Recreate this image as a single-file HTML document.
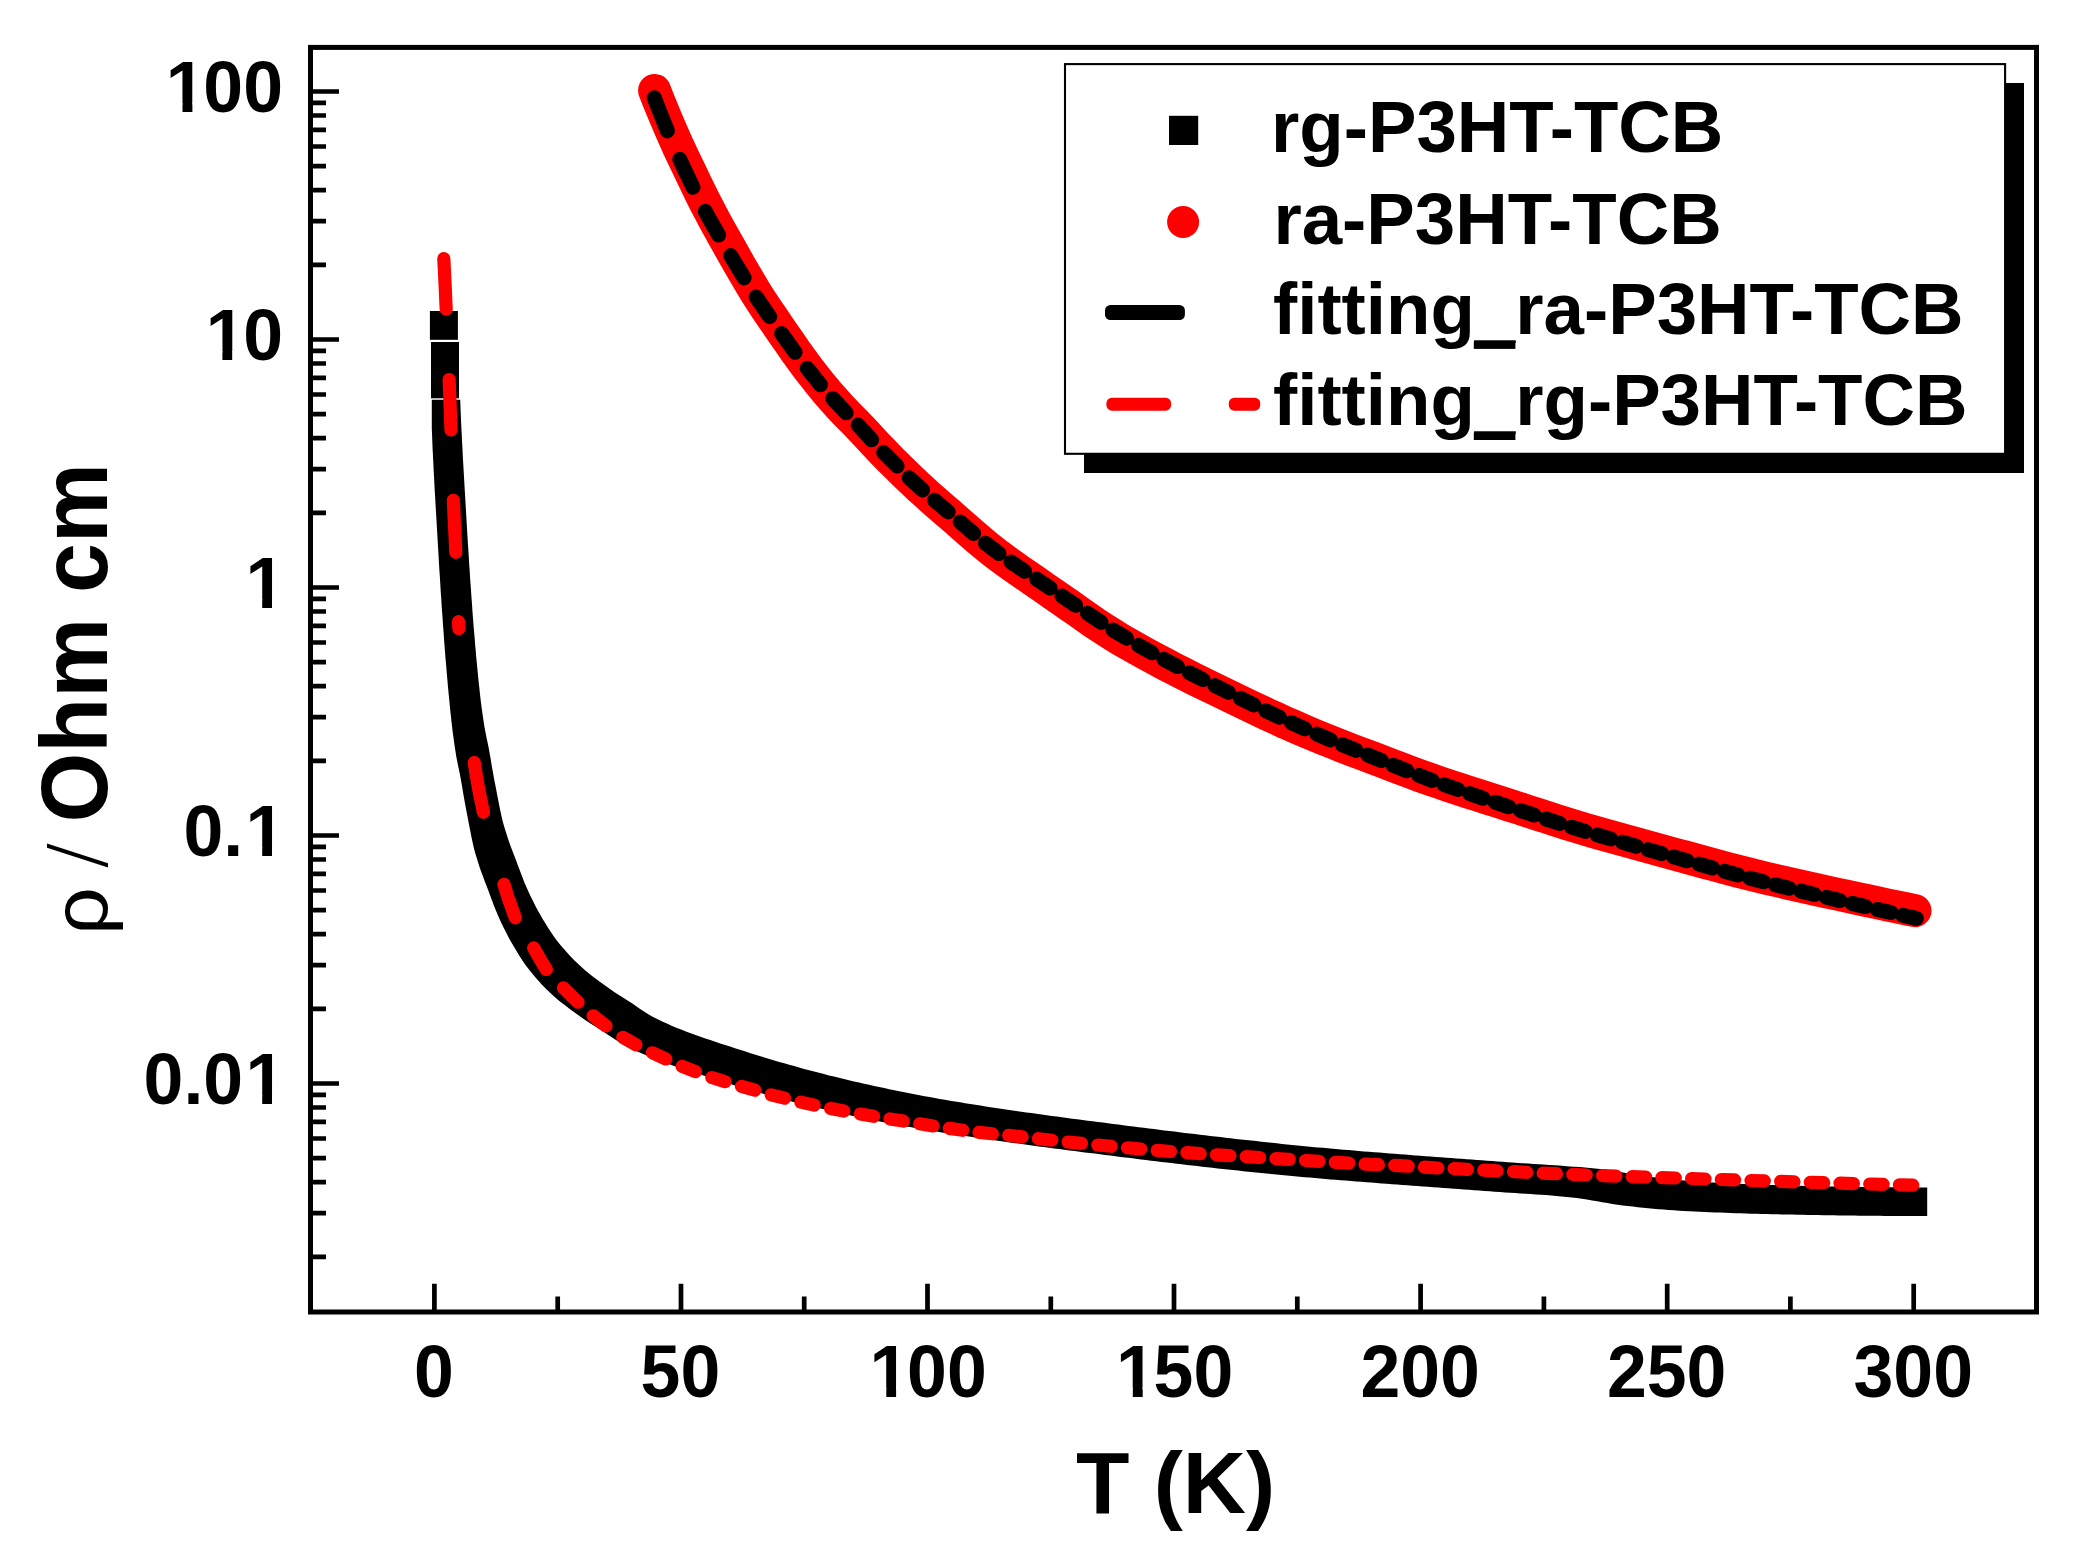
<!DOCTYPE html>
<html><head><meta charset="utf-8"><title>Resistivity vs T</title>
<style>html,body{margin:0;padding:0;background:#fff}svg{display:block}</style></head>
<body>
<svg width="2084" height="1564" viewBox="0 0 2084 1564">
<rect x="0" y="0" width="2084" height="1564" fill="#fff"/>
<path d="M654.6,90.4 L658.3,99.9 L662.1,109.3 L666.0,118.7 L670.0,128.0 L674.1,137.3 L678.2,146.6 L682.5,155.7 L686.9,164.9 L691.4,174.2 L695.8,183.5 L700.3,192.8 L704.9,202.0 L709.7,211.2 L714.6,220.4 L719.6,229.4 L724.6,238.5 L729.7,247.5 L734.8,256.6 L739.9,265.6 L745.1,274.6 L750.4,283.5 L755.7,292.4 L761.3,301.1 L766.9,309.6 L772.7,318.0 L778.4,326.4 L784.2,334.8 L790.0,343.2 L795.8,351.6 L801.8,359.9 L807.8,368.1 L814.1,376.1 L820.4,384.1 L826.9,392.0 L833.6,399.7 L840.4,407.3 L847.6,414.7 L854.8,422.0 L862.0,429.5 L869.0,437.0 L876.0,444.6 L883.1,452.0 L890.3,459.4 L897.6,466.7 L904.8,473.8 L912.0,480.7 L919.4,487.6 L926.9,494.4 L934.4,501.1 L942.0,507.7 L949.6,514.3 L957.2,520.9 L964.8,527.6 L972.4,534.2 L980.0,540.8 L987.8,547.2 L995.7,553.4 L1003.8,559.5 L1011.9,565.4 L1020.2,571.2 L1028.5,576.9 L1036.8,582.6 L1045.0,588.4 L1053.3,594.1 L1061.6,599.8 L1069.9,605.6 L1078.1,611.4 L1086.4,617.2 L1094.6,623.0 L1103.0,628.5 L1111.7,634.0 L1120.4,639.4 L1129.3,644.6 L1138.3,649.6 L1147.3,654.6 L1156.4,659.5 L1165.5,664.4 L1174.6,669.1 L1183.8,673.8 L1193.0,678.4 L1202.2,683.0 L1211.5,687.5 L1220.8,692.0 L1230.0,696.5 L1239.3,701.0 L1248.6,705.5 L1257.9,709.9 L1267.2,714.3 L1276.6,718.6 L1285.9,722.9 L1295.4,727.0 L1304.8,731.1 L1314.3,735.1 L1323.8,739.0 L1333.3,742.8 L1342.9,746.6 L1352.5,750.3 L1362.1,753.9 L1371.7,757.5 L1381.3,761.2 L1390.9,764.9 L1400.6,768.5 L1410.2,772.1 L1419.8,775.7 L1429.5,779.1 L1439.3,782.5 L1449.0,785.8 L1458.8,789.0 L1468.6,792.2 L1478.4,795.3 L1488.2,798.5 L1498.0,801.5 L1507.8,804.7 L1517.7,807.9 L1527.5,811.1 L1537.3,814.2 L1547.2,817.4 L1557.0,820.6 L1566.9,823.7 L1576.8,826.7 L1586.7,829.7 L1596.6,832.6 L1606.5,835.4 L1616.5,838.2 L1626.4,840.9 L1636.4,843.7 L1646.3,846.4 L1656.3,849.2 L1666.2,851.9 L1676.2,854.6 L1686.2,857.3 L1696.1,860.0 L1706.1,862.7 L1716.1,865.4 L1726.0,868.1 L1736.0,870.7 L1746.0,873.3 L1756.0,875.8 L1766.1,878.2 L1776.1,880.5 L1786.1,882.8 L1796.2,885.1 L1806.2,887.3 L1816.3,889.6 L1826.4,891.8 L1836.4,894.0 L1846.5,896.2 L1856.6,898.4 L1866.7,900.5 L1876.8,902.7 L1886.8,904.8 L1896.9,906.9 L1907.0,909.0 L1915.0,910.7" fill="none" stroke="#ff0000" stroke-width="33" stroke-linecap="round" stroke-linejoin="round"/>
<rect x="429.9" y="311" width="28" height="28.8" fill="#000"/>
<rect x="431" y="342" width="28" height="56.3" fill="#000"/>
<path d="M431.8,399.8 L460.2,399.8 L460.4,404.9 L460.6,410.0 L460.8,415.2 L461.0,420.3 L461.3,425.5 L461.5,430.6 L461.8,435.8 L462.0,440.9 L462.3,446.0 L462.6,451.2 L462.8,456.3 L463.1,461.5 L463.4,466.6 L463.7,471.7 L464.0,476.9 L464.3,482.0 L464.6,487.2 L464.9,492.3 L465.2,497.5 L465.5,502.6 L465.8,507.7 L466.1,512.9 L466.4,518.0 L466.7,523.2 L467.0,528.3 L467.3,533.4 L467.6,538.6 L467.9,543.7 L468.3,548.9 L468.6,554.0 L468.9,559.1 L469.2,564.3 L469.6,569.4 L469.9,574.6 L470.2,579.7 L470.6,584.8 L471.0,590.0 L471.3,595.1 L471.7,600.3 L472.1,605.4 L472.4,610.5 L472.8,615.7 L473.2,620.8 L473.6,625.9 L474.0,631.1 L474.5,636.2 L474.9,641.3 L475.3,646.4 L475.8,651.6 L476.2,656.7 L476.7,661.8 L477.2,667.0 L477.7,672.1 L478.2,677.2 L478.7,682.4 L479.3,687.5 L479.8,692.6 L480.4,697.7 L481.0,702.8 L481.7,707.9 L482.4,713.0 L483.1,718.1 L483.9,723.2 L484.7,728.3 L485.7,733.3 L486.7,738.4 L487.8,743.4 L488.8,748.5 L489.7,753.5 L490.6,758.6 L491.4,763.7 L492.3,768.8 L493.2,773.8 L494.1,778.9 L495.1,784.0 L496.1,789.0 L497.0,794.1 L498.0,799.1 L499.0,804.2 L500.0,809.3 L501.1,814.3 L502.2,819.3 L503.5,824.3 L505.0,829.2 L506.5,834.1 L508.1,839.0 L509.8,843.9 L511.6,848.7 L513.4,853.5 L515.3,858.3 L517.1,863.2 L518.9,868.0 L520.7,872.8 L522.5,877.6 L524.4,882.4 L526.4,887.1 L528.5,891.8 L530.7,896.5 L533.0,901.1 L535.3,905.7 L537.7,910.3 L540.3,914.8 L542.8,919.2 L545.5,923.6 L548.2,928.0 L551.0,932.3 L553.9,936.6 L557.0,940.7 L560.2,944.7 L563.5,948.6 L567.0,952.5 L570.4,956.3 L574.0,960.0 L577.7,963.6 L581.5,967.1 L585.3,970.5 L589.3,973.8 L593.4,976.9 L597.5,980.1 L601.6,983.1 L605.8,986.1 L610.0,989.1 L614.2,992.0 L618.5,994.8 L622.9,997.6 L627.2,1000.3 L631.6,1003.1 L635.9,1006.0 L640.1,1008.9 L644.4,1011.7 L648.7,1014.5 L653.1,1017.0 L657.7,1019.3 L662.2,1021.5 L666.9,1023.6 L671.6,1025.7 L676.3,1027.7 L681.1,1029.6 L685.9,1031.5 L690.7,1033.3 L695.6,1035.1 L700.5,1036.8 L705.4,1038.5 L710.3,1040.1 L715.3,1041.8 L720.2,1043.4 L725.2,1045.0 L730.1,1046.6 L735.0,1048.2 L739.9,1049.7 L744.8,1051.3 L749.8,1052.9 L754.7,1054.4 L759.6,1055.9 L764.5,1057.5 L769.4,1058.9 L774.3,1060.4 L779.3,1061.9 L784.2,1063.3 L789.2,1064.7 L794.2,1066.1 L799.1,1067.5 L804.1,1068.9 L809.1,1070.2 L814.1,1071.5 L819.0,1072.8 L824.0,1074.1 L829.0,1075.4 L834.0,1076.6 L839.0,1077.8 L844.0,1079.0 L849.0,1080.2 L854.0,1081.4 L859.1,1082.6 L864.1,1083.7 L869.1,1084.8 L874.1,1085.9 L879.2,1087.0 L884.2,1088.1 L889.3,1089.2 L894.3,1090.3 L899.3,1091.3 L904.4,1092.3 L909.5,1093.3 L914.5,1094.3 L919.6,1095.3 L924.6,1096.2 L929.7,1097.1 L934.8,1098.0 L939.8,1098.9 L944.9,1099.8 L950.0,1100.7 L955.0,1101.5 L960.1,1102.3 L965.2,1103.2 L970.3,1104.0 L975.4,1104.8 L980.4,1105.6 L985.5,1106.4 L990.6,1107.2 L995.7,1107.9 L1000.8,1108.7 L1005.9,1109.5 L1011.0,1110.2 L1016.1,1110.9 L1021.2,1111.7 L1026.3,1112.4 L1031.4,1113.1 L1036.5,1113.8 L1041.6,1114.5 L1046.7,1115.2 L1051.8,1115.9 L1056.9,1116.6 L1062.0,1117.3 L1067.1,1118.0 L1072.2,1118.7 L1077.3,1119.3 L1082.5,1120.0 L1087.6,1120.7 L1092.7,1121.3 L1097.8,1122.0 L1102.9,1122.6 L1108.0,1123.3 L1113.1,1124.0 L1118.2,1124.6 L1123.3,1125.2 L1128.4,1125.9 L1133.5,1126.5 L1138.7,1127.2 L1143.8,1127.8 L1148.9,1128.5 L1154.0,1129.1 L1159.1,1129.7 L1164.2,1130.4 L1169.3,1131.0 L1174.4,1131.6 L1179.5,1132.3 L1184.6,1132.9 L1189.8,1133.5 L1194.9,1134.1 L1200.0,1134.7 L1205.1,1135.3 L1210.2,1135.9 L1215.3,1136.5 L1220.5,1137.1 L1225.6,1137.7 L1230.7,1138.3 L1235.8,1138.9 L1240.9,1139.4 L1246.0,1140.0 L1251.2,1140.6 L1256.3,1141.1 L1261.4,1141.7 L1266.5,1142.2 L1271.6,1142.8 L1276.8,1143.3 L1281.9,1143.9 L1287.0,1144.4 L1292.1,1144.9 L1297.3,1145.4 L1302.4,1145.9 L1307.5,1146.4 L1312.6,1146.9 L1317.7,1147.4 L1322.9,1147.8 L1328.0,1148.3 L1333.1,1148.8 L1338.3,1149.2 L1343.4,1149.7 L1348.5,1150.1 L1353.6,1150.5 L1358.8,1151.0 L1363.9,1151.4 L1369.0,1151.8 L1374.2,1152.2 L1379.3,1152.6 L1384.4,1153.0 L1389.6,1153.4 L1394.7,1153.8 L1399.8,1154.2 L1405.0,1154.6 L1410.1,1155.0 L1415.2,1155.4 L1420.4,1155.8 L1425.5,1156.2 L1430.7,1156.5 L1435.8,1156.9 L1440.9,1157.3 L1446.1,1157.7 L1451.2,1158.0 L1456.3,1158.4 L1461.5,1158.8 L1466.6,1159.2 L1471.7,1159.5 L1476.9,1159.9 L1482.0,1160.3 L1487.2,1160.7 L1492.3,1161.1 L1497.4,1161.4 L1502.6,1161.8 L1507.7,1162.2 L1512.8,1162.6 L1518.0,1162.9 L1523.1,1163.3 L1528.3,1163.6 L1533.4,1164.0 L1538.5,1164.3 L1543.7,1164.6 L1548.8,1165.0 L1554.0,1165.3 L1559.1,1165.6 L1564.3,1166.0 L1569.4,1166.4 L1574.5,1166.7 L1579.7,1167.1 L1584.8,1167.6 L1589.9,1168.0 L1595.0,1168.5 L1600.1,1169.0 L1605.2,1169.6 L1610.3,1170.3 L1615.4,1171.1 L1620.5,1172.0 L1625.6,1172.9 L1630.7,1173.8 L1635.7,1174.7 L1640.8,1175.5 L1645.9,1176.3 L1651.0,1177.0 L1656.1,1177.6 L1661.2,1178.2 L1666.3,1178.8 L1671.5,1179.3 L1676.6,1179.8 L1681.7,1180.3 L1686.9,1180.8 L1692.0,1181.2 L1697.1,1181.6 L1702.3,1181.9 L1707.4,1182.3 L1712.5,1182.5 L1717.7,1182.8 L1722.8,1183.1 L1728.0,1183.3 L1733.1,1183.6 L1738.2,1183.8 L1743.4,1184.0 L1748.5,1184.2 L1753.7,1184.4 L1758.8,1184.6 L1764.0,1184.8 L1769.1,1184.9 L1774.3,1185.1 L1779.4,1185.3 L1784.6,1185.4 L1789.7,1185.6 L1794.9,1185.7 L1800.0,1185.8 L1805.2,1185.9 L1810.3,1186.0 L1815.5,1186.1 L1820.6,1186.2 L1825.8,1186.3 L1830.9,1186.4 L1836.1,1186.5 L1841.2,1186.6 L1846.4,1186.7 L1851.5,1186.8 L1856.7,1186.8 L1861.8,1186.9 L1866.9,1187.0 L1872.1,1187.1 L1877.2,1187.1 L1882.4,1187.2 L1887.5,1187.3 L1892.7,1187.3 L1897.8,1187.4 L1903.0,1187.4 L1908.1,1187.4 L1913.3,1187.5 L1918.4,1187.5 L1923.6,1187.5 L1927.2,1187.5 L1927.2,1215.9 L1898.8,1215.9 L1895.2,1215.9 L1890.0,1215.9 L1884.9,1215.9 L1879.7,1215.8 L1874.6,1215.8 L1869.4,1215.8 L1864.3,1215.7 L1859.1,1215.7 L1854.0,1215.6 L1848.8,1215.5 L1843.7,1215.5 L1838.5,1215.4 L1833.4,1215.3 L1828.3,1215.2 L1823.1,1215.2 L1818.0,1215.1 L1812.8,1215.0 L1807.7,1214.9 L1802.5,1214.8 L1797.4,1214.7 L1792.2,1214.6 L1787.1,1214.5 L1781.9,1214.4 L1776.8,1214.3 L1771.6,1214.2 L1766.5,1214.1 L1761.3,1214.0 L1756.2,1213.8 L1751.0,1213.7 L1745.9,1213.5 L1740.7,1213.3 L1735.6,1213.2 L1730.4,1213.0 L1725.3,1212.8 L1720.1,1212.6 L1715.0,1212.4 L1709.8,1212.2 L1704.7,1212.0 L1699.6,1211.7 L1694.4,1211.5 L1689.3,1211.2 L1684.1,1210.9 L1679.0,1210.7 L1673.9,1210.3 L1668.7,1210.0 L1663.6,1209.6 L1658.5,1209.2 L1653.3,1208.7 L1648.2,1208.2 L1643.1,1207.7 L1637.9,1207.2 L1632.8,1206.6 L1627.7,1206.0 L1622.6,1205.4 L1617.5,1204.7 L1612.4,1203.9 L1607.3,1203.1 L1602.3,1202.2 L1597.2,1201.3 L1592.1,1200.4 L1587.0,1199.5 L1581.9,1198.7 L1576.8,1198.0 L1571.7,1197.4 L1566.6,1196.9 L1561.5,1196.4 L1556.4,1196.0 L1551.3,1195.5 L1546.1,1195.1 L1541.0,1194.8 L1535.9,1194.4 L1530.7,1194.0 L1525.6,1193.7 L1520.4,1193.4 L1515.3,1193.0 L1510.1,1192.7 L1505.0,1192.4 L1499.9,1192.0 L1494.7,1191.7 L1489.6,1191.3 L1484.4,1191.0 L1479.3,1190.6 L1474.2,1190.2 L1469.0,1189.8 L1463.9,1189.5 L1458.8,1189.1 L1453.6,1188.7 L1448.5,1188.3 L1443.3,1187.9 L1438.2,1187.6 L1433.1,1187.2 L1427.9,1186.8 L1422.8,1186.4 L1417.7,1186.1 L1412.5,1185.7 L1407.4,1185.3 L1402.3,1184.9 L1397.1,1184.6 L1392.0,1184.2 L1386.8,1183.8 L1381.7,1183.4 L1376.6,1183.0 L1371.4,1182.6 L1366.3,1182.2 L1361.2,1181.8 L1356.0,1181.4 L1350.9,1181.0 L1345.8,1180.6 L1340.6,1180.2 L1335.5,1179.8 L1330.4,1179.4 L1325.2,1178.9 L1320.1,1178.5 L1315.0,1178.1 L1309.9,1177.6 L1304.7,1177.2 L1299.6,1176.7 L1294.5,1176.2 L1289.3,1175.8 L1284.2,1175.3 L1279.1,1174.8 L1274.0,1174.3 L1268.9,1173.8 L1263.7,1173.3 L1258.6,1172.8 L1253.5,1172.3 L1248.4,1171.7 L1243.2,1171.2 L1238.1,1170.6 L1233.0,1170.1 L1227.9,1169.5 L1222.8,1169.0 L1217.6,1168.4 L1212.5,1167.8 L1207.4,1167.3 L1202.3,1166.7 L1197.2,1166.1 L1192.1,1165.5 L1186.9,1164.9 L1181.8,1164.3 L1176.7,1163.7 L1171.6,1163.1 L1166.5,1162.5 L1161.4,1161.9 L1156.2,1161.3 L1151.1,1160.7 L1146.0,1160.0 L1140.9,1159.4 L1135.8,1158.8 L1130.7,1158.1 L1125.6,1157.5 L1120.5,1156.9 L1115.4,1156.2 L1110.3,1155.6 L1105.1,1154.9 L1100.0,1154.3 L1094.9,1153.6 L1089.8,1153.0 L1084.7,1152.4 L1079.6,1151.7 L1074.5,1151.0 L1069.4,1150.4 L1064.3,1149.7 L1059.2,1149.1 L1054.1,1148.4 L1048.9,1147.7 L1043.8,1147.1 L1038.7,1146.4 L1033.6,1145.7 L1028.5,1145.0 L1023.4,1144.3 L1018.3,1143.6 L1013.2,1142.9 L1008.1,1142.2 L1003.0,1141.5 L997.9,1140.8 L992.8,1140.1 L987.7,1139.3 L982.6,1138.6 L977.5,1137.9 L972.4,1137.1 L967.3,1136.3 L962.2,1135.6 L957.1,1134.8 L952.0,1134.0 L947.0,1133.2 L941.9,1132.4 L936.8,1131.6 L931.7,1130.7 L926.6,1129.9 L921.6,1129.1 L916.5,1128.2 L911.4,1127.3 L906.4,1126.4 L901.3,1125.5 L896.2,1124.6 L891.2,1123.7 L886.1,1122.7 L881.1,1121.7 L876.0,1120.7 L870.9,1119.7 L865.9,1118.7 L860.9,1117.6 L855.8,1116.5 L850.8,1115.4 L845.7,1114.3 L840.7,1113.2 L835.7,1112.1 L830.7,1111.0 L825.6,1109.8 L820.6,1108.6 L815.6,1107.4 L810.6,1106.2 L805.6,1105.0 L800.6,1103.8 L795.6,1102.5 L790.6,1101.2 L785.7,1099.9 L780.7,1098.6 L775.7,1097.3 L770.7,1095.9 L765.8,1094.5 L760.8,1093.1 L755.8,1091.7 L750.9,1090.3 L745.9,1088.8 L741.0,1087.3 L736.1,1085.9 L731.2,1084.3 L726.3,1082.8 L721.4,1081.3 L716.4,1079.7 L711.5,1078.1 L706.6,1076.6 L701.7,1075.0 L696.8,1073.4 L691.8,1071.8 L686.9,1070.2 L681.9,1068.5 L677.0,1066.9 L672.1,1065.2 L667.2,1063.5 L662.3,1061.7 L657.5,1059.9 L652.7,1058.0 L647.9,1056.1 L643.2,1054.1 L638.5,1052.0 L633.8,1049.9 L629.3,1047.7 L624.7,1045.4 L620.3,1042.9 L616.0,1040.1 L611.7,1037.3 L607.5,1034.4 L603.2,1031.5 L598.8,1028.7 L594.5,1026.0 L590.1,1023.2 L585.8,1020.4 L581.6,1017.5 L577.4,1014.5 L573.2,1011.5 L569.1,1008.5 L565.0,1005.3 L560.9,1002.2 L556.9,998.9 L553.1,995.5 L549.3,992.0 L545.6,988.4 L542.0,984.7 L538.6,980.9 L535.1,977.0 L531.8,973.1 L528.6,969.1 L525.5,965.0 L522.6,960.7 L519.8,956.4 L517.1,952.0 L514.4,947.6 L511.9,943.2 L509.3,938.7 L506.9,934.1 L504.6,929.5 L502.3,924.9 L500.1,920.2 L498.0,915.5 L496.0,910.8 L494.1,906.0 L492.3,901.2 L490.5,896.4 L488.7,891.6 L486.9,886.7 L485.0,881.9 L483.2,877.1 L481.4,872.3 L479.7,867.4 L478.1,862.5 L476.6,857.6 L475.1,852.7 L473.8,847.7 L472.7,842.7 L471.6,837.7 L470.6,832.6 L469.6,827.5 L468.6,822.5 L467.7,817.4 L466.7,812.4 L465.7,807.3 L464.8,802.2 L463.9,797.2 L463.0,792.1 L462.2,787.0 L461.3,781.9 L460.4,776.9 L459.4,771.8 L458.3,766.8 L457.3,761.7 L456.3,756.7 L455.5,751.6 L454.7,746.5 L454.0,741.4 L453.3,736.3 L452.6,731.2 L452.0,726.1 L451.4,721.0 L450.9,715.9 L450.3,710.8 L449.8,705.6 L449.3,700.5 L448.8,695.4 L448.3,690.2 L447.8,685.1 L447.4,680.0 L446.9,674.8 L446.5,669.7 L446.1,664.6 L445.6,659.5 L445.2,654.3 L444.8,649.2 L444.4,644.1 L444.0,638.9 L443.7,633.8 L443.3,628.7 L442.9,623.5 L442.6,618.4 L442.2,613.2 L441.8,608.1 L441.5,603.0 L441.2,597.8 L440.8,592.7 L440.5,587.5 L440.2,582.4 L439.9,577.3 L439.5,572.1 L439.2,567.0 L438.9,561.8 L438.6,556.7 L438.3,551.6 L438.0,546.4 L437.7,541.3 L437.4,536.1 L437.1,531.0 L436.8,525.9 L436.5,520.7 L436.2,515.6 L435.9,510.4 L435.6,505.3 L435.3,500.1 L435.0,495.0 L434.7,489.9 L434.4,484.7 L434.2,479.6 L433.9,474.4 L433.6,469.3 L433.4,464.2 L433.1,459.0 L432.9,453.9 L432.6,448.7 L432.4,443.6 L432.2,438.4 L432.0,433.3 L431.8,428.2Z" fill="#000"/>
<path d="M443.8,258.7 L444.5,272.7 L445.2,286.7 L445.8,300.7 L446.2,309.2 M449.1,379.5 L449.7,394.0 L450.2,408.0 L451.0,430.0 M453.4,500.3 L454.0,514.8 L454.7,528.8 L455.4,542.8 L455.8,552.3 M458.5,621.6 L458.9,628.6 M474.3,762.6 L476.5,776.9 L479.0,790.7 L483.4,812.3 M504.0,884.4 L508.2,898.0 L515.3,917.8 M533.7,947.9 L540.7,960.3 L546.4,969.5 M563.4,987.9 L578.0,1002.2 M593.1,1015.8 L606.0,1026.0 M622.8,1037.3 L635.9,1044.8 M652.4,1052.8 L665.8,1059.0 M682.1,1066.4 L695.4,1071.7 M711.8,1077.5 L725.1,1081.7 M741.5,1086.4 L754.9,1090.2 M771.2,1094.8 L784.5,1098.2 M800.9,1102.1 L814.2,1105.1 M830.6,1108.5 L843.9,1111.1 M860.3,1114.0 L873.6,1116.3 M890.0,1118.9 L903.3,1121.1 M919.7,1123.8 L933.0,1125.9 M949.3,1128.4 L962.7,1130.3 M979.0,1132.4 L992.4,1133.8 M1008.7,1135.4 L1022.1,1136.8 M1038.4,1138.7 L1051.8,1140.2 M1068.1,1142.0 L1081.5,1143.4 M1097.8,1145.0 L1111.2,1146.3 M1127.5,1147.8 L1140.8,1149.0 M1157.2,1150.4 L1170.5,1151.5 M1186.9,1152.7 L1200.2,1153.7 M1216.5,1154.8 L1229.9,1155.6 M1246.2,1156.7 L1259.6,1157.5 M1275.9,1158.6 L1289.3,1159.4 M1305.6,1160.5 L1319.0,1161.4 M1335.3,1162.4 L1348.7,1163.2 M1365.0,1164.1 L1378.4,1164.7 M1394.7,1165.4 L1408.1,1166.2 M1424.4,1167.2 L1437.7,1168.0 M1454.1,1168.7 L1467.4,1169.4 M1483.8,1170.2 L1497.1,1170.8 M1513.5,1171.6 L1526.8,1172.3 M1543.1,1173.1 L1556.5,1173.7 M1572.8,1174.4 L1586.2,1175.0 M1602.5,1175.6 L1615.9,1176.1 M1632.2,1176.7 L1645.6,1177.1 M1661.9,1177.6 L1675.3,1178.0 M1691.6,1178.5 L1705.0,1179.0 M1721.3,1179.5 L1734.6,1179.9 M1751.0,1180.5 L1764.3,1180.9 M1780.7,1181.4 L1794.0,1181.8 M1810.3,1182.3 L1823.7,1182.7 M1840.0,1183.2 L1853.4,1183.6 M1869.7,1184.0 L1883.1,1184.4 M1899.4,1184.8 L1912.8,1185.2" fill="none" stroke="#ff0000" stroke-width="13.2" stroke-linecap="round" stroke-linejoin="round"/>
<path d="M654.3,97.7 L659.5,111.1 L667.4,130.9 M679.8,159.3 L685.7,172.2 L693.0,187.3 M705.3,211.3 L712.0,223.6 L718.6,235.1 M730.7,255.6 L738.1,267.9 L744.1,277.9 M756.2,297.0 L764.2,308.8 L769.7,316.7 M781.7,333.6 L790.0,345.2 L795.1,352.3 M807.2,368.3 L820.5,384.7 M832.7,398.5 L846.2,412.8 M858.1,425.1 L871.7,439.8 M883.6,452.4 L897.1,466.1 M909.1,477.7 L922.6,490.0 M934.6,500.3 L948.2,511.9 M960.1,521.9 L973.6,533.5 M985.5,543.2 L999.0,553.5 M1011.0,562.0 L1024.6,571.2 M1036.5,579.0 L1050.1,588.1 M1062.0,596.1 L1075.6,605.3 M1087.5,613.3 L1101.0,622.3 M1112.9,630.0 L1126.5,638.2 M1138.4,645.2 L1152.0,652.8 M1163.9,659.3 L1177.5,666.6 M1189.4,672.8 L1203.0,679.6 M1214.9,685.6 L1228.5,692.4 M1240.3,698.3 L1253.9,705.0 M1265.8,710.7 L1279.4,717.2 M1291.3,722.7 L1304.9,728.8 M1316.8,734.1 L1330.4,739.9 M1342.3,744.8 L1355.9,750.3 M1367.7,755.0 L1381.4,760.5 M1393.2,765.2 L1406.8,770.7 M1418.7,775.3 L1432.3,780.4 M1444.2,784.7 L1457.8,789.5 M1469.7,793.6 L1483.3,798.3 M1495.1,802.2 L1508.8,806.8 M1520.6,810.6 L1534.3,815.1 M1546.1,819.0 L1559.7,823.4 M1571.6,827.2 L1585.2,831.4 M1597.1,834.9 L1610.7,838.9 M1622.5,842.3 L1636.2,846.2 M1648.0,849.6 L1661.6,853.5 M1673.5,856.9 L1687.1,860.8 M1699.0,864.1 L1712.6,868.0 M1724.5,871.3 L1738.1,875.0 M1749.9,878.2 L1763.6,881.8 M1775.4,884.8 L1789.0,888.2 M1800.9,891.1 L1814.5,894.5 M1826.4,897.3 L1840.0,900.6 M1851.9,903.4 L1865.5,906.6 M1877.3,909.4 L1891.0,912.5 M1902.8,915.3 L1916.4,918.4" fill="none" stroke="#000" stroke-width="15" stroke-linecap="round" stroke-linejoin="round"/>
<rect x="310.5" y="47.4" width="1726.0" height="1264.6" fill="none" stroke="#000" stroke-width="5.0"/>
<path d="M434.4,1312.0 V1283.8 M557.7,1312.0 V1296.4 M681.0,1312.0 V1283.8 M804.2,1312.0 V1296.4 M927.5,1312.0 V1283.8 M1050.8,1312.0 V1296.4 M1174.0,1312.0 V1283.8 M1297.3,1312.0 V1296.4 M1420.6,1312.0 V1283.8 M1543.9,1312.0 V1296.4 M1667.2,1312.0 V1283.8 M1790.4,1312.0 V1296.4 M1913.7,1312.0 V1283.8 M310.5,1256.8 H326 M310.5,1213.2 H326 M310.5,1182.2 H326 M310.5,1158.2 H326 M310.5,1138.5 H326 M310.5,1121.9 H326 M310.5,1107.5 H326 M310.5,1094.8 H326 M310.5,1083.5 H339 M310.5,1008.8 H326 M310.5,965.2 H326 M310.5,934.2 H326 M310.5,910.2 H326 M310.5,890.5 H326 M310.5,873.9 H326 M310.5,859.5 H326 M310.5,846.8 H326 M310.5,835.5 H339 M310.5,760.8 H326 M310.5,717.2 H326 M310.5,686.2 H326 M310.5,662.2 H326 M310.5,642.5 H326 M310.5,625.9 H326 M310.5,611.5 H326 M310.5,598.8 H326 M310.5,587.5 H339 M310.5,512.8 H326 M310.5,469.2 H326 M310.5,438.2 H326 M310.5,414.2 H326 M310.5,394.5 H326 M310.5,377.9 H326 M310.5,363.5 H326 M310.5,350.8 H326 M310.5,339.5 H339 M310.5,264.8 H326 M310.5,221.2 H326 M310.5,190.2 H326 M310.5,166.2 H326 M310.5,146.5 H326 M310.5,129.9 H326 M310.5,115.5 H326 M310.5,102.8 H326 M310.5,91.5 H339" fill="none" stroke="#000" stroke-width="4.7"/>
<text transform="translate(414.0,1396.8) scale(1,1.04)" x="0" y="0" dx="0" font-size="71.6" font-family="Liberation Sans, Arial, Helvetica, sans-serif" font-weight="bold">0</text>
<text transform="translate(640.6,1396.8) scale(1,1.04)" x="0" y="0" dx="0 0" font-size="71.6" font-family="Liberation Sans, Arial, Helvetica, sans-serif" font-weight="bold">50</text>
<text transform="translate(867.3,1396.8) scale(1,1.04)" x="0" y="0" dx="2.3 -2.3 0" font-size="71.6" font-family="Liberation Sans, Arial, Helvetica, sans-serif" font-weight="bold">100</text>
<rect x="873.1" y="1387.6" width="13.2" height="10.2" fill="#fff"/>
<rect x="896.1" y="1387.6" width="12.3" height="10.2" fill="#fff"/>
<text transform="translate(1113.8,1396.8) scale(1,1.04)" x="0" y="0" dx="2.3 -2.3 0" font-size="71.6" font-family="Liberation Sans, Arial, Helvetica, sans-serif" font-weight="bold">150</text>
<rect x="1119.6" y="1387.6" width="13.2" height="10.2" fill="#fff"/>
<rect x="1142.7" y="1387.6" width="12.3" height="10.2" fill="#fff"/>
<text transform="translate(1360.4,1396.8) scale(1,1.04)" x="0" y="0" dx="0 0 0" font-size="71.6" font-family="Liberation Sans, Arial, Helvetica, sans-serif" font-weight="bold">200</text>
<text transform="translate(1606.9,1396.8) scale(1,1.04)" x="0" y="0" dx="0 0 0" font-size="71.6" font-family="Liberation Sans, Arial, Helvetica, sans-serif" font-weight="bold">250</text>
<text transform="translate(1853.5,1396.8) scale(1,1.04)" x="0" y="0" dx="0 0 0" font-size="71.6" font-family="Liberation Sans, Arial, Helvetica, sans-serif" font-weight="bold">300</text>
<text x="163.5" y="112.0" dx="2.3 -2.3 0" font-size="71.6" font-family="Liberation Sans, Arial, Helvetica, sans-serif" font-weight="bold">100</text>
<rect x="169.3" y="103.1" width="13.2" height="9.9" fill="#fff"/>
<rect x="192.4" y="103.1" width="12.3" height="9.9" fill="#fff"/>
<text x="203.4" y="360.0" dx="2.3 -2.3" font-size="71.6" font-family="Liberation Sans, Arial, Helvetica, sans-serif" font-weight="bold">10</text>
<rect x="209.2" y="351.1" width="13.2" height="9.9" fill="#fff"/>
<rect x="232.2" y="351.1" width="12.3" height="9.9" fill="#fff"/>
<text x="243.2" y="608.0" dx="2.3" font-size="71.6" font-family="Liberation Sans, Arial, Helvetica, sans-serif" font-weight="bold">1</text>
<rect x="249.0" y="599.1" width="13.2" height="9.9" fill="#fff"/>
<rect x="272.0" y="599.1" width="12.3" height="9.9" fill="#fff"/>
<text x="183.5" y="856.0" dx="0 0 2.3" font-size="71.6" font-family="Liberation Sans, Arial, Helvetica, sans-serif" font-weight="bold">0.1</text>
<rect x="249.0" y="847.1" width="13.2" height="9.9" fill="#fff"/>
<rect x="272.0" y="847.1" width="12.3" height="9.9" fill="#fff"/>
<text x="143.6" y="1104.0" dx="0 0 0 2.3" font-size="71.6" font-family="Liberation Sans, Arial, Helvetica, sans-serif" font-weight="bold">0.01</text>
<rect x="249.0" y="1095.1" width="13.2" height="9.9" fill="#fff"/>
<rect x="272.0" y="1095.1" width="12.3" height="9.9" fill="#fff"/>
<text x="1175.5" y="1512.7" font-size="87.5" text-anchor="middle" font-family="Liberation Sans, Arial, Helvetica, sans-serif" font-weight="bold">T (K)</text>
<g transform="translate(106.8,0) rotate(-90)"><text transform="translate(-935,0) scale(1,0.93)" x="0" y="0" font-size="84" font-family="Liberation Sans, sans-serif">ρ</text><text transform="translate(-867.5,0) scale(1,1.07)" x="0" y="0" font-size="86" font-family="Liberation Serif, serif">/</text><text transform="translate(-822.5,0) scale(1,1.05)" x="0" y="0" font-size="89.8" font-family="Liberation Sans, Arial, Helvetica, sans-serif" font-weight="bold">Ohm cm</text></g>
<rect x="1084" y="83" width="940" height="390" fill="#000"/>
<rect x="1065" y="64.1" width="940.1" height="389.7" fill="#fff" stroke="#000" stroke-width="2.1"/>
<rect x="1169" y="115.8" width="29.2" height="29.2" fill="#000"/>
<circle cx="1183.1" cy="222" r="16" fill="#ff0000"/>
<rect x="1105" y="304.9" width="79.9" height="15.1" rx="5.5" fill="#000"/>
<rect x="1106.4" y="397.7" width="64.7" height="13" rx="5.5" fill="#ff0000"/>
<rect x="1228.8" y="397.7" width="31.4" height="13" rx="5.5" fill="#ff0000"/>
<text x="1271" y="152" font-size="72.7" font-family="Liberation Sans, Arial, Helvetica, sans-serif" font-weight="bold">rg-P3HT-TCB</text>
<text x="1273.4" y="243.5" font-size="72.7" font-family="Liberation Sans, Arial, Helvetica, sans-serif" font-weight="bold">ra-P3HT-TCB</text>
<text x="1273" y="334.1" font-size="72.7" font-family="Liberation Sans, Arial, Helvetica, sans-serif" font-weight="bold">fitting_ra-P3HT-TCB</text>
<text x="1273" y="425.2" font-size="72.7" font-family="Liberation Sans, Arial, Helvetica, sans-serif" font-weight="bold">fitting_rg-P3HT-TCB</text>
<rect x="1473.8" y="341.7" width="41.6" height="7.2" fill="#000"/>
<rect x="1473.8" y="432.8" width="41.6" height="7.2" fill="#000"/>
</svg>
</body></html>
